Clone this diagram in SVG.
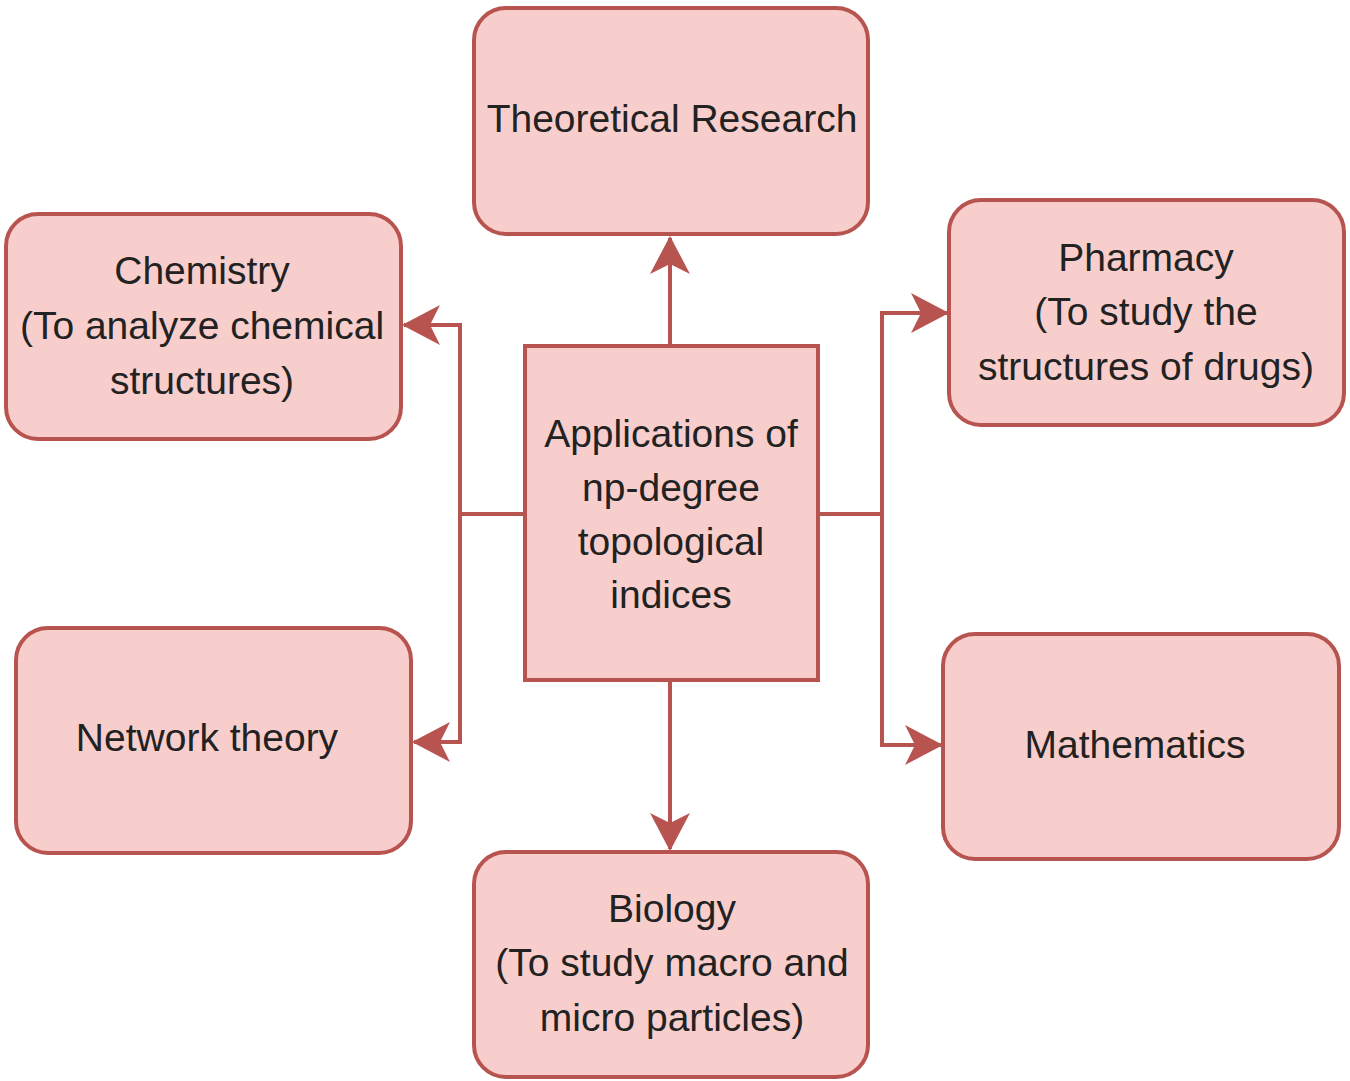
<svg xmlns="http://www.w3.org/2000/svg" width="1350" height="1081" viewBox="0 0 1350 1081">
<defs>
<style>
.n{fill:#f8cecc;stroke:#b85450;stroke-width:4}
.t{font-family:"Liberation Sans",Arial,sans-serif;font-size:39px;fill:#222;text-anchor:middle}
.c{fill:none;stroke:#b85450;stroke-width:4}
</style>
<marker id="a" markerUnits="userSpaceOnUse" markerWidth="40" markerHeight="44" viewBox="0 0 40 44" refX="36" refY="22" orient="auto">
<path d="M0,2 L38,22 L0,42 L10,22 Z" fill="#b85450"/>
</marker>
</defs>
<rect width="1350" height="1081" fill="#fff"/>
<g id="connectors">
<path class="c" d="M670,345 L670,238" marker-end="url(#a)"/>
<path class="c" d="M670,680 L670,849" marker-end="url(#a)"/>
<path class="c" d="M525,514 L460,514 L460,325 L404,325" marker-end="url(#a)"/>
<path class="c" d="M460,514 L460,742 L414,742" marker-end="url(#a)"/>
<path class="c" d="M818,514 L882,514 L882,313 L947,313" marker-end="url(#a)"/>
<path class="c" d="M882,514 L882,745 L941,745" marker-end="url(#a)"/>
</g>
<g id="theoretical">
<rect class="n" x="474" y="8" width="394" height="226" rx="32"/>
<text class="t" x="672" y="132">Theoretical Research</text>
</g>
<g id="chemistry">
<rect class="n" x="6" y="214" width="395" height="225" rx="32"/>
<text class="t" x="202" y="284">Chemistry</text>
<text class="t" x="202" y="339">(To analyze chemical</text>
<text class="t" x="202" y="394">structures)</text>
</g>
<g id="pharmacy">
<rect class="n" x="949" y="200" width="395" height="225" rx="32"/>
<text class="t" x="1146" y="271">Pharmacy</text>
<text class="t" x="1146" y="325">(To study the</text>
<text class="t" x="1146" y="380">structures of drugs)</text>
</g>
<g id="center">
<rect class="n" x="525" y="346" width="293" height="334"/>
<text class="t" x="671" y="447">Applications of</text>
<text class="t" x="671" y="501">np-degree</text>
<text class="t" x="671" y="555">topological</text>
<text class="t" x="671" y="608">indices</text>
</g>
<g id="network">
<rect class="n" x="16" y="628" width="395" height="225" rx="32"/>
<text class="t" x="207" y="751">Network theory</text>
</g>
<g id="mathematics">
<rect class="n" x="943" y="634" width="396" height="225" rx="32"/>
<text class="t" x="1135" y="758">Mathematics</text>
</g>
<g id="biology">
<rect class="n" x="474" y="852" width="394" height="225" rx="32"/>
<text class="t" x="672" y="922">Biology</text>
<text class="t" x="672" y="976">(To study macro and</text>
<text class="t" x="672" y="1031">micro particles)</text>
</g>
</svg>
